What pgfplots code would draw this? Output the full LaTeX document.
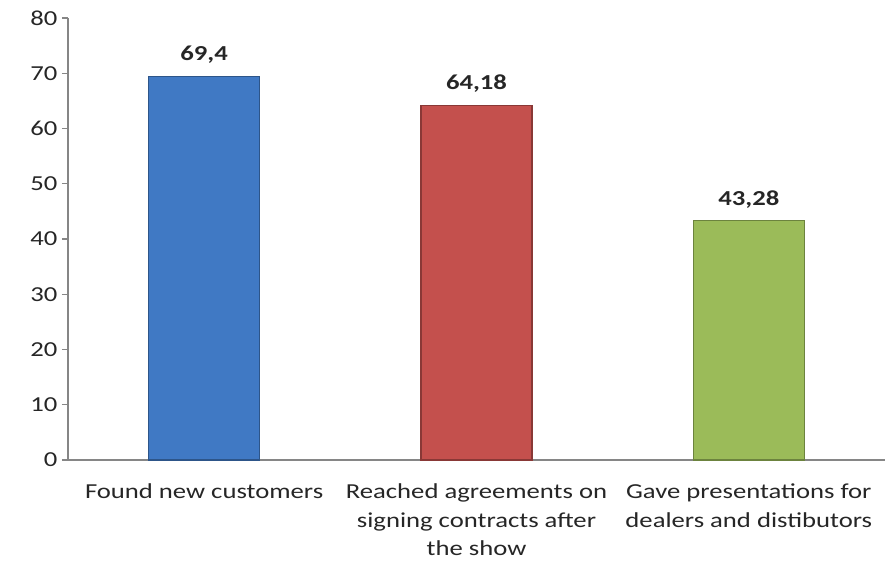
\documentclass[border=0pt]{standalone}
\usepackage{fontspec}
\setmainfont{Carlito}[FakeStretch=1.25]
\usepackage{pgfplots}
\pgfplotsset{compat=1.18}
\usetikzlibrary{calc}

\definecolor{barblue}{RGB}{64,121,196}
\definecolor{barred}{RGB}{196,80,77}
\definecolor{bargreen}{RGB}{155,187,89}
\definecolor{axisgray}{RGB}{134,134,134}

\begin{document}
\begin{tikzpicture}
\begin{axis}[
    name=ax,
    scale only axis,
    width=612.75pt, height=331.5pt,
    xmin=-0.5, xmax=2.5,
    ymin=0, ymax=80,
    ytick={0,10,...,80},
    axis x line*=bottom,
    axis y line*=left,
    axis line style={axisgray, line width=0.9pt},
    xtick={0,1,2},
    xticklabels={Found new customers,
        {Reached agreements on\\signing contracts after\\the show},
        {Gave presentations for\\dealers and distibutors}},
    xticklabel style={align=center, yshift=-10pt},
    x tick style={draw=none},
    extra x ticks={-0.5,0.5,1.5},
    extra x tick labels={},
    extra x tick style={tick style={draw=axisgray, line width=0.9pt}, major tick length=6pt, tick align=outside},
    y tick style={axisgray, line width=0.9pt},
    tick align=outside,
    major tick length=4.5pt,
    ytick pos=left,
    tick label style={font=\fontsize{16}{21.4}\selectfont, text=black!85},
    /pgf/number format/assume math mode=true,
    ybar, bar width=83.25pt, bar shift=0pt,
    point meta=explicit symbolic,
    nodes near coords={\textbf{\pgfplotspointmeta}},
    nodes near coords style={font=\fontsize{16}{19}\selectfont, text=black!85, yshift=6pt},
    clip=false,
]
\addplot[fill=barblue, draw=barblue!70!black, line width=0.8pt] coordinates {(0,69.4) [69,4]};
\addplot[fill=barred, draw=barred!70!black, line width=0.8pt] coordinates {(1,64.18) [64,18]};
\addplot[fill=bargreen, draw=bargreen!70!black, line width=0.8pt] coordinates {(2,43.28) [43,28]};
\end{axis}
\pgfresetboundingbox
\useasboundingbox ($(ax.south west)+(-51pt,-80.25pt)$) rectangle ++(663.75pt,425.25pt);
\end{tikzpicture}
\end{document}
